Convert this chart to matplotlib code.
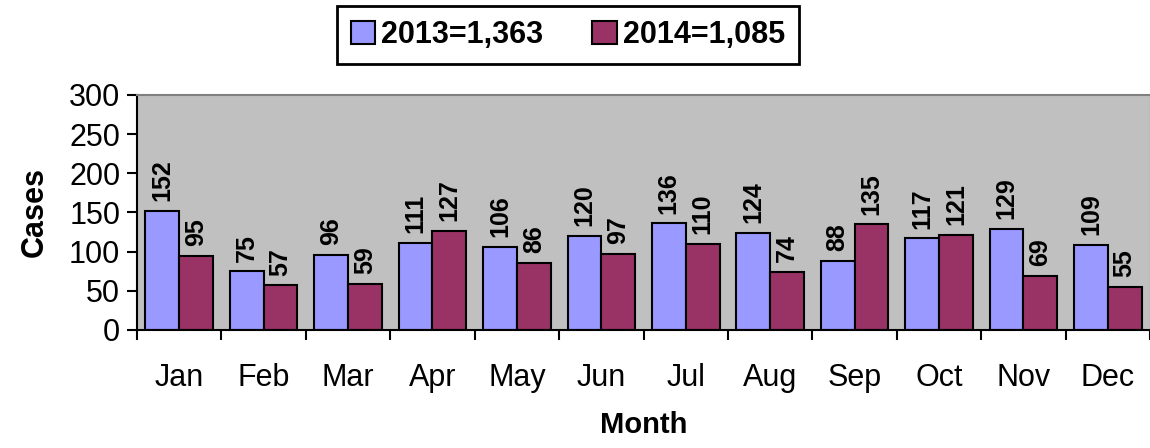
import numpy as np
import matplotlib
matplotlib.use('Agg')
import matplotlib.pyplot as plt
from matplotlib.patches import Patch

months = ['Jan', 'Feb', 'Mar', 'Apr', 'May', 'Jun',
          'Jul', 'Aug', 'Sep', 'Oct', 'Nov', 'Dec']
cases_2013 = [152, 75, 96, 111, 106, 120, 136, 124, 88, 117, 129, 109]
cases_2014 = [95, 57, 59, 127, 86, 97, 110, 74, 135, 121, 69, 55]
series_labels = ['2013=1,363', '2014=1,085']

BLUE = '#9999FF'
PLUM = '#993366'

plt.rcParams['font.family'] = ['Liberation Sans', 'DejaVu Sans']


def main():
    fig = plt.figure(figsize=(11.5, 4.48), dpi=100)
    ax = fig.add_axes([0.1191, 0.2634, 0.881, 0.5246])
    ax.set_facecolor('#C0C0C0')

    x = np.arange(len(months))
    w = 0.4
    b1 = ax.bar(x - w / 2, cases_2013, w, color=BLUE, edgecolor='black', linewidth=1.5)
    b2 = ax.bar(x + w / 2, cases_2014, w, color=PLUM, edgecolor='black', linewidth=1.5)

    for bars in (b1, b2):
        for rect in bars:
            h = rect.get_height()
            ax.annotate(str(int(h)), (rect.get_x() + rect.get_width() / 2, h),
                        xytext=(0, 7), textcoords='offset points',
                        rotation=90, ha='center', va='bottom',
                        fontsize=18, fontweight='bold')

    ax.set_xlim(-0.5, len(months) - 0.5)
    ax.set_ylim(0, 300)
    ax.set_yticks(range(0, 301, 50))
    ax.tick_params(axis='y', labelsize=22, length=7, width=1.5, direction='out', pad=5)

    # ticks on category boundaries, labels centred on categories
    ax.set_xticks(np.arange(-0.5, len(months), 1.0))
    ax.set_xticklabels([])
    ax.set_xticks(x, minor=True)
    ax.set_xticklabels(months, minor=True, fontsize=22)
    ax.tick_params(axis='x', which='major', length=7, width=1.5, direction='out')
    ax.tick_params(axis='x', which='minor', length=0, pad=24)

    ax.spines['left'].set_linewidth(1.5)
    ax.spines['bottom'].set_linewidth(1.5)
    ax.spines['top'].set_color('#808080')
    ax.spines['top'].set_linewidth(1.5)
    ax.spines['right'].set_color('#808080')

    ax.set_ylabel('Cases', fontsize=22, fontweight='bold', labelpad=14)
    ax.set_xlabel('Month', fontsize=21, fontweight='bold', labelpad=13)

    handles = [Patch(facecolor=BLUE, edgecolor='black', linewidth=1.5),
               Patch(facecolor=PLUM, edgecolor='black', linewidth=1.5)]
    leg = fig.legend(handles, series_labels, loc='center', ncol=2,
                     bbox_to_anchor=(0.494, 0.922),
                     prop={'size': 22, 'weight': 'bold'},
                     handlelength=0.8, handleheight=0.8, handletextpad=0.2,
                     columnspacing=1.6, fancybox=False, framealpha=1,
                     edgecolor='black', borderpad=0.45)
    leg.get_frame().set_linewidth(2)

    fig.savefig('out.png', dpi=100)


if __name__ == '__main__':
    main()
